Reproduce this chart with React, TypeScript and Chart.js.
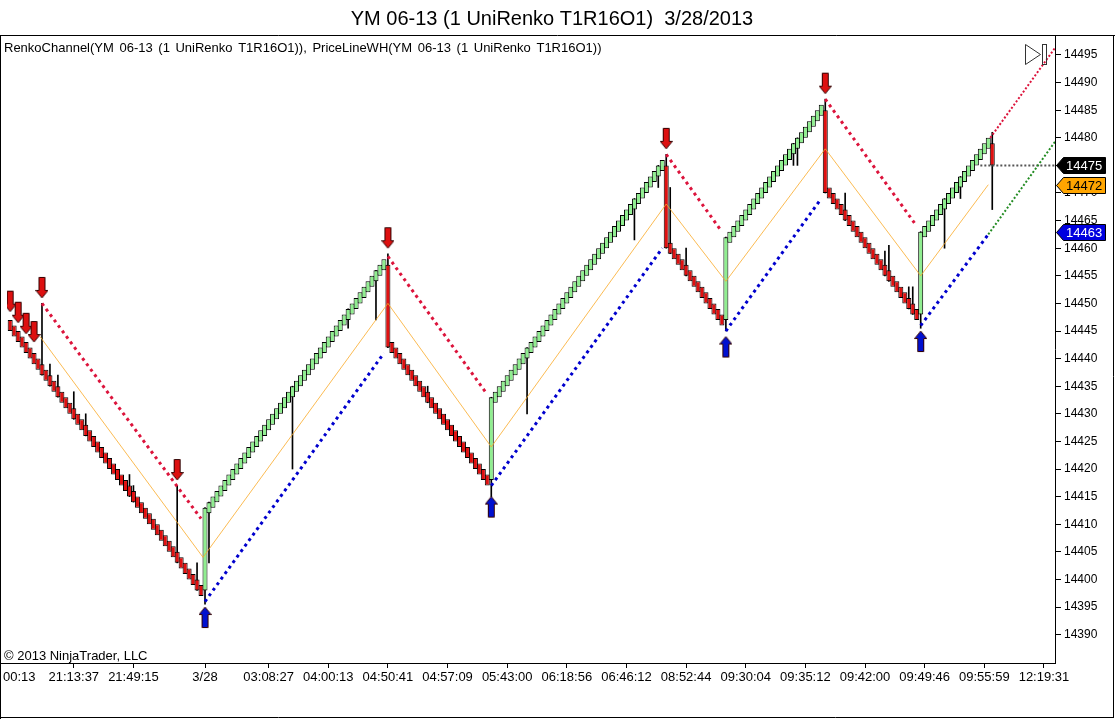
import { useEffect, useRef } from 'react';
import { Chart, registerables } from 'chart.js';

Chart.register(...registerables);

const FONT = "'Liberation Sans', Arial, sans-serif";

const title = 'YM 06-13 (1 UniRenko T1R16O1)  3/28/2013';
const indicatorText = 'RenkoChannel(YM 06-13 (1 UniRenko T1R16O1)), PriceLineWH(YM 06-13 (1 UniRenko T1R16O1))';
const copyrightText = '© 2013 NinjaTrader, LLC';

// brick closes, one per bar (UniRenko T1R16O1)
const closes = [
  // leg 1 down
  14445, 14444, 14443, 14442, 14441, 14440, 14439, 14438, 14437, 14436,
  14435, 14434, 14433, 14432, 14431, 14430, 14429, 14428, 14427, 14426,
  14425, 14424, 14423, 14422, 14421, 14420, 14419, 14418, 14417, 14416,
  14415, 14414, 14413, 14412, 14411, 14410, 14409, 14408, 14407, 14406,
  14405, 14404, 14403, 14402, 14401, 14400, 14399, 14398, 14397,
  14413,
  // leg 2 up
  14414, 14415, 14416, 14417, 14418, 14419, 14420, 14421, 14422, 14423,
  14424, 14425, 14426, 14427, 14428, 14429, 14430, 14431, 14432, 14433,
  14434, 14435, 14436, 14437, 14438, 14439, 14440, 14441, 14442, 14443,
  14444, 14445, 14446, 14447, 14448, 14449, 14450, 14451, 14452, 14453,
  14454, 14455, 14456, 14457, 14458,
  14442,
  // leg 3 down
  14441, 14440, 14439, 14438, 14437, 14436, 14435, 14434, 14433, 14432,
  14431, 14430, 14429, 14428, 14427, 14426, 14425, 14424, 14423, 14422,
  14421, 14420, 14419, 14418, 14417,
  14433,
  // leg 4 up
  14434, 14435, 14436, 14437, 14438, 14439, 14440, 14441, 14442, 14443,
  14444, 14445, 14446, 14447, 14448, 14449, 14450, 14451, 14452, 14453,
  14454, 14455, 14456, 14457, 14458, 14459, 14460, 14461, 14462, 14463,
  14464, 14465, 14466, 14467, 14468, 14469, 14470, 14471, 14472, 14473,
  14474, 14475, 14476,
  14460,
  // leg 5 down
  14459, 14458, 14457, 14456, 14455, 14454, 14453, 14452, 14451, 14450,
  14449, 14448, 14447, 14446,
  14462,
  // leg 6 up
  14463, 14464, 14465, 14466, 14467, 14468, 14469, 14470, 14471, 14472,
  14473, 14474, 14475, 14476, 14477, 14478, 14479, 14480, 14481, 14482,
  14483, 14484, 14485, 14486,
  14470,
  // leg 7 down
  14469, 14468, 14467, 14466, 14465, 14464, 14463, 14462, 14461, 14460,
  14459, 14458, 14457, 14456, 14455, 14454, 14453, 14452, 14451, 14450,
  14449, 14448, 14447,
  14463,
  // leg 8 up
  14464, 14465, 14466, 14467, 14468, 14469, 14470, 14471, 14472, 14473,
  14474, 14475, 14476, 14477, 14478, 14479, 14480,
  14475,
];

// reversal bars have their own open
const reversalBars = [49, 95, 121, 165, 180, 205, 229, 247];
const reversalOpens = [14398, 14457, 14418, 14475, 14447, 14485, 14448, 14479];

// wicks (bar, low, high)
const wickBars = [8, 10, 12, 16, 19, 30, 31, 42, 47, 49, 50, 71, 85, 92, 95, 105, 121, 130, 157, 163, 165, 166, 170, 180, 197, 198, 205, 210, 220, 221, 226, 227, 229, 235, 239, 247];
const wickLows = [14437, 14435, 14433, 14429, 14426, 14415, 14414, 14403, 14398, 14395.5, 14403, 14420, 14445.5, 14447, 14442, 14432, 14415, 14430, 14461.5, 14471, 14460, 14459, 14455, 14445, 14475, 14475, 14470, 14465, 14455, 14454, 14449, 14448, 14445.5, 14460, 14469, 14467];
const wickHighs = [14450, 14439, 14437, 14434, 14430, 14419, 14417, 14417, 14403, 14413, 14414, 14435, 14449, 14456, 14459, 14435, 14433, 14442, 14469, 14475, 14477, 14471, 14460, 14462, 14479, 14480, 14487, 14470, 14459.5, 14460.5, 14453, 14453, 14463, 14469, 14473, 14481];

// channel midline (pivots)
const midBars = [7.5, 48.5, 95, 121, 165, 180, 205, 229, 246];
const midPrices = [14444, 14404, 14450, 14424, 14468, 14454, 14478, 14455, 14471.5];

// upper channel in down legs, start/end pairs
const upperBars = [8, 48, 95, 120, 165, 179, 205, 228];
const upperPrices = [14450, 14411, 14458.5, 14433.5, 14477, 14463, 14487, 14464];
// lower channel in up legs, start/end pairs
const lowerBars = [49, 94, 121, 164, 180, 204, 229, 246];
const lowerPrices = [14396, 14441, 14417, 14460, 14445, 14469, 14446, 14462.5];

// projections past the last bar
const upperProjBars = [246.5, 263];
const upperProjPrices = [14480, 14496.5];
const lowerProjBars = [246, 263];
const lowerProjPrices = [14462.5, 14479.5];

const lastPrice = 14475;
const priceLineBars = [244, 263];

const markerValues = [14475, 14471.5, 14463];
const markerLabels = ['14475', '14472', '14463'];

const downArrowBars = [0, 2, 4, 6, 8, 42, 95, 165, 205];
const downArrowTips = [14448.5, 14446.5, 14444.5, 14443, 14451, 14418, 14460, 14478, 14488];
const upArrowBars = [49, 121, 180, 229];
const upArrowTips = [14395, 14415, 14444, 14445];

const yTickValues = [14390, 14395, 14400, 14405, 14410, 14415, 14420, 14425, 14430, 14435, 14440,
  14445, 14450, 14455, 14460, 14465, 14470, 14475, 14480, 14485, 14490, 14495];

const xTickBars = [1, 16, 31, 49, 65, 80, 95, 110, 125, 140, 155, 170, 185, 200, 215, 230, 245, 260];
const xTickLabels = ['00:13', '21:13:37', '21:49:15', '3/28', '03:08:27', '04:00:13', '04:50:41', '04:57:09',
  '05:43:00', '06:18:56', '06:46:12', '08:52:44', '09:30:04', '09:35:12', '09:42:00', '09:49:46', '09:55:59', '12:19:31'];

const X_MIN = -0.8;
const X_MAX = 263.03;
const Y_MIN = 14384.86;
const Y_MAX = 14498.44;

const pairsToSegments = (bars: number[], prices: number[]) => {
  const out: any[] = [];
  for (let i = 0; i < bars.length; i += 2) {
    out.push({ x: bars[i], y: prices[i] }, { x: bars[i + 1], y: prices[i + 1] }, { x: bars[i + 1] + 0.5, y: null });
  }
  return out;
};

function makeArrow(fill: string, up: boolean) {
  const c = document.createElement('canvas');
  c.width = 13;
  c.height = 44;
  const g = c.getContext('2d')!;
  g.beginPath();
  if (!up) {
    g.moveTo(3.5, 1.5); g.lineTo(9.5, 1.5); g.lineTo(9.5, 14.5); g.lineTo(12.5, 14.5);
    g.lineTo(6.5, 22); g.lineTo(0.5, 14.5); g.lineTo(3.5, 14.5);
  } else {
    g.moveTo(6.5, 22); g.lineTo(12.5, 29.5); g.lineTo(9.5, 29.5); g.lineTo(9.5, 42.5);
    g.lineTo(3.5, 42.5); g.lineTo(3.5, 29.5); g.lineTo(0.5, 29.5);
  }
  g.closePath();
  g.fillStyle = fill;
  g.fill();
  g.strokeStyle = '#300';
  g.lineWidth = 1;
  g.stroke();
  return c;
}

const overlay = {
  id: 'overlay',
  afterDraw(chart: any) {
    const { ctx, chartArea: a, scales } = chart;
    const W = chart.width;
    const H = chart.height;
    ctx.save();

    // frame
    ctx.strokeStyle = '#000';
    ctx.lineWidth = 1;
    ctx.beginPath();
    ctx.moveTo(0, 35.5); ctx.lineTo(W, 35.5);
    ctx.moveTo(0.5, 35); ctx.lineTo(0.5, H);
    ctx.moveTo(0, a.bottom + 0.5); ctx.lineTo(a.right, a.bottom + 0.5);
    ctx.moveTo(a.right - 0.5, 35); ctx.lineTo(a.right - 0.5, a.bottom + 1);
    ctx.moveTo(W - 1.5, 35); ctx.lineTo(W - 1.5, H - 1);
    ctx.moveTo(0, H - 1.5); ctx.lineTo(W - 1, H - 1.5);
    ctx.stroke();

    // texts
    ctx.fillStyle = '#000';
    ctx.textBaseline = 'alphabetic';
    ctx.font = `20px ${FONT}`;
    ctx.textAlign = 'center';
    ctx.fillText(title, 552, 25);
    ctx.font = `13px ${FONT}`;
    ctx.textAlign = 'left';
    ctx.wordSpacing = '2px';
    ctx.fillText(indicatorText, 4, 52);
    ctx.wordSpacing = '0px';
    ctx.fillText(copyrightText, 4, 660);
    ctx.fillText(xTickLabels[0], 3, 681);

    // scroll icon
    ctx.strokeStyle = '#333';
    ctx.beginPath();
    ctx.moveTo(1025.5, 44.5); ctx.lineTo(1040.5, 54.5); ctx.lineTo(1025.5, 64.5); ctx.closePath();
    ctx.stroke();
    ctx.strokeRect(1042.5, 44.5, 4, 20);

    // price markers
    const fills = ['#000000', '#FFA500', '#0000E0'];
    const inks = ['#FFFFFF', '#000000', '#FFFFFF'];
    markerValues.forEach((v, i) => {
      const yc = Math.round(scales.y.getPixelForValue(v)) + 0.5;
      ctx.beginPath();
      ctx.moveTo(a.right + 0.5, yc);
      ctx.lineTo(a.right + 7.5, yc - 8);
      ctx.lineTo(1105.5, yc - 8);
      ctx.lineTo(1105.5, yc + 8);
      ctx.lineTo(a.right + 7.5, yc + 8);
      ctx.closePath();
      ctx.fillStyle = fills[i];
      ctx.fill();
      ctx.strokeStyle = '#000';
      ctx.stroke();
      ctx.fillStyle = inks[i];
      ctx.font = `13px ${FONT}`;
      ctx.textBaseline = 'middle';
      ctx.fillText(markerLabels[i], 1066, yc + 0.5);
    });
    ctx.restore();
  },
};

export default function App() {
  const canvasRef = useRef<HTMLCanvasElement>(null);

  useEffect(() => {
    document.body.style.margin = '0';
    const canvas = canvasRef.current;
    if (!canvas) return;

    const opens = closes.map((c, i) => {
      const r = reversalBars.indexOf(i);
      if (r >= 0) return reversalOpens[r];
      const down = i === 0 || c < closes[i - 1];
      return down ? c + 2 : c - 2;
    });

    const chart = new Chart(canvas, {
      type: 'bar',
      data: {
        datasets: [
          {
            type: 'bar',
            data: wickBars.map((b, i) => ({ x: b, y: [wickLows[i], wickHighs[i]] })),
            backgroundColor: '#000',
            borderWidth: 0,
            barThickness: 1,
            grouped: false,
            order: 6,
          },
          {
            type: 'bar',
            data: closes.map((c, i) => ({ x: i, y: [opens[i], c] })),
            backgroundColor: closes.map((c, i) => (c < opens[i] ? '#E01010' : '#90EE90')),
            borderColor: '#000',
            borderWidth: 1,
            borderSkipped: false,
            barThickness: 5,
            inflateAmount: 0,
            grouped: false,
            order: 5,
          },
          {
            type: 'line',
            data: midBars.map((b, i) => ({ x: b, y: midPrices[i] })),
            borderColor: 'rgba(250,170,40,0.8)',
            borderWidth: 1,
            pointRadius: 0,
            order: 4,
          },
          {
            type: 'line',
            data: pairsToSegments(upperBars, upperPrices),
            borderColor: '#DC143C',
            borderWidth: 3,
            borderDash: [3, 3.8],
            pointRadius: 0,
            spanGaps: false,
            order: 3,
          },
          {
            type: 'line',
            data: pairsToSegments(lowerBars, lowerPrices),
            borderColor: '#0000CD',
            borderWidth: 3,
            borderDash: [3, 3.8],
            pointRadius: 0,
            spanGaps: false,
            order: 3,
          },
          {
            type: 'line',
            data: upperProjBars.map((b, i) => ({ x: b, y: upperProjPrices[i] })),
            borderColor: '#DC143C',
            borderWidth: 2,
            borderDash: [2, 2],
            pointRadius: 0,
            order: 3,
          },
          {
            type: 'line',
            data: lowerProjBars.map((b, i) => ({ x: b, y: lowerProjPrices[i] })),
            borderColor: '#228B22',
            borderWidth: 2,
            borderDash: [2, 2],
            pointRadius: 0,
            order: 3,
          },
          {
            type: 'line',
            data: priceLineBars.map((b) => ({ x: b, y: lastPrice })),
            borderColor: '#555',
            borderWidth: 2,
            borderDash: [2, 2],
            pointRadius: 0,
            order: 3,
          },
          {
            type: 'line',
            data: downArrowBars.map((b, i) => ({ x: b, y: downArrowTips[i] })),
            showLine: false,
            pointStyle: makeArrow('#DD1010', false),
            pointRadius: 6,
            order: 1,
          },
          {
            type: 'line',
            data: upArrowBars.map((b, i) => ({ x: b, y: upArrowTips[i] })),
            showLine: false,
            pointStyle: makeArrow('#0010D0', true),
            pointRadius: 6,
            order: 1,
          },
        ] as any,
      },
      options: {
        responsive: false,
        animation: false,
        events: [],
        layout: { padding: { top: 36, left: 2, right: 0, bottom: 0 } },
        plugins: {
          legend: { display: false },
          title: { display: false },
          tooltip: { enabled: false },
        },
        scales: {
          x: {
            type: 'linear',
            min: X_MIN,
            max: X_MAX,
            offset: false,
            border: { display: false },
            grid: { display: true, drawOnChartArea: false, drawTicks: true, tickLength: 5, offset: false,
              color: '#000', tickColor: (c: any) => (c.index === 0 ? 'rgba(0,0,0,0)' : '#000') },
            afterBuildTicks: (scale: any) => { scale.ticks = xTickBars.map((v) => ({ value: v })); },
            afterFit: (scale: any) => { scale.height = 56; },
            ticks: {
              autoSkip: false,
              maxRotation: 0,
              minRotation: 0,
              padding: 2,
              color: '#000',
              font: { family: FONT, size: 13 },
              callback: (_v: any, i: number) => (i === 0 ? '' : xTickLabels[i]),
            },
          },
          y: {
            type: 'linear',
            position: 'right',
            min: Y_MIN,
            max: Y_MAX,
            border: { display: false },
            grid: { display: true, drawOnChartArea: false, drawTicks: true, tickLength: 5, color: '#000' },
            afterBuildTicks: (scale: any) => { scale.ticks = yTickValues.map((v) => ({ value: v })); },
            afterFit: (scale: any) => { scale.width = 59; },
            ticks: {
              padding: 3,
              color: '#000',
              font: { family: FONT, size: 12 },
              callback: (v: any) => String(v),
            },
          },
        },
      } as any,
      plugins: [overlay],
    });

    return () => chart.destroy();
  }, []);

  return (
    <div style={{ width: 1115, height: 719, background: '#fff' }}>
      <canvas ref={canvasRef} width={1115} height={719} style={{ display: 'block' }} />
    </div>
  );
}
